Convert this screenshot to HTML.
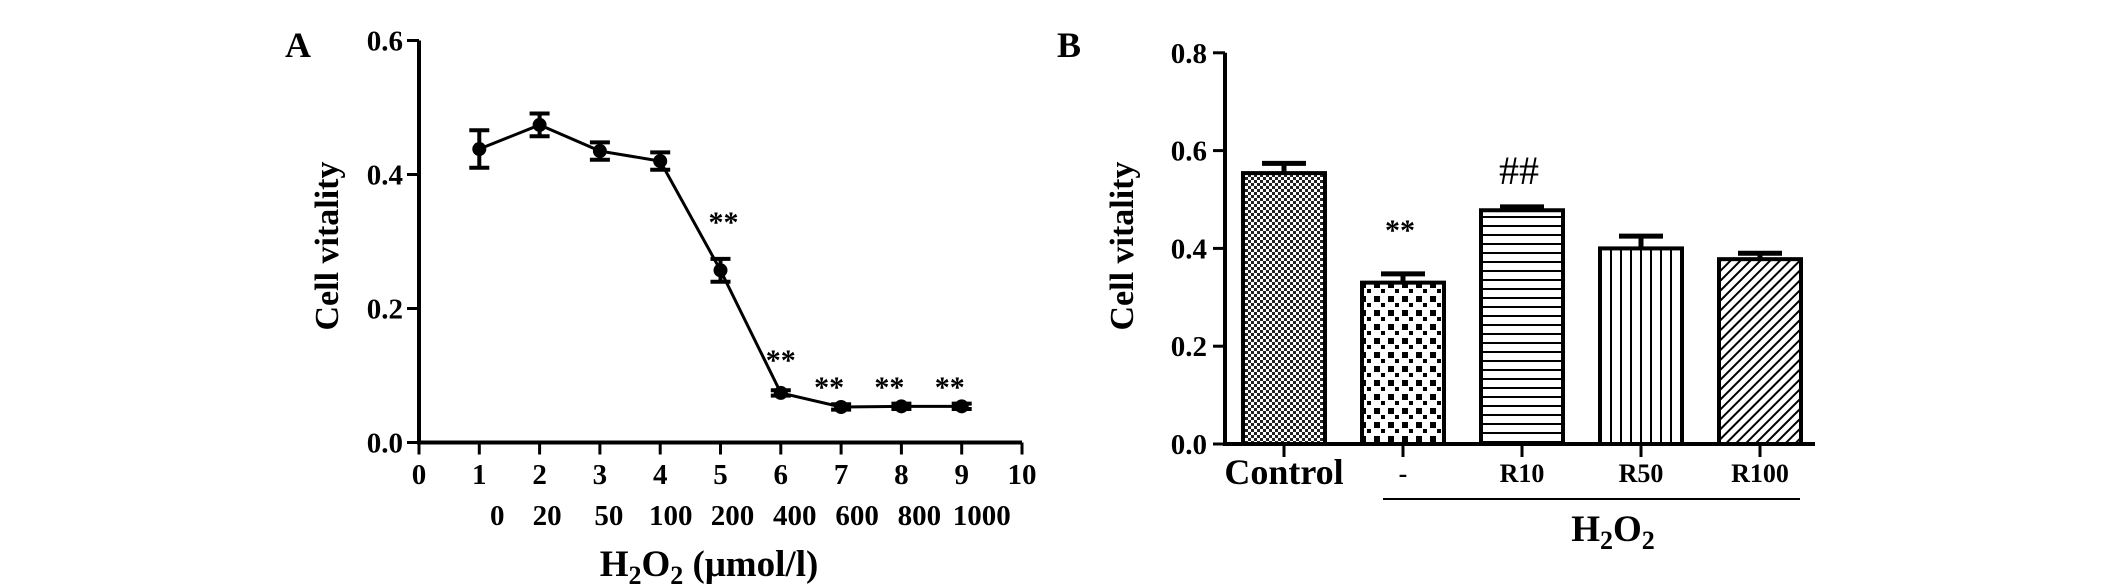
<!DOCTYPE html>
<html><head><meta charset="utf-8"><style>
html,body{margin:0;padding:0;background:#fff;}
svg{display:block;font-family:"Liberation Serif",serif;font-weight:bold;}
</style></head><body>
<svg id="chart" width="2126" height="585" viewBox="0 0 2126 585" xmlns="http://www.w3.org/2000/svg">
<defs>
<pattern id="pFine" width="6" height="6" patternUnits="userSpaceOnUse"><rect width="6" height="6" fill="#fff"/><rect width="3" height="3" fill="#222"/><rect x="3" y="3" width="3" height="3" fill="#222"/></pattern>
<pattern id="pCheck" width="14" height="14" patternUnits="userSpaceOnUse"><rect width="14" height="14" fill="#fff"/><rect x="2" y="2" width="6" height="6" fill="#000"/><rect x="9" y="9" width="4" height="4" fill="#000"/></pattern>
<pattern id="pHoriz" width="10" height="9" patternUnits="userSpaceOnUse"><rect width="10" height="9" fill="#fff"/><rect y="0" width="10" height="2" fill="#000"/></pattern>
<pattern id="pVert" width="10" height="10" patternUnits="userSpaceOnUse"><rect width="10" height="10" fill="#fff"/><rect x="0" width="2" height="10" fill="#000"/></pattern>
<pattern id="pDiag" width="7" height="7" patternUnits="userSpaceOnUse" patternTransform="rotate(45)"><rect width="7" height="7" fill="#fff"/><rect width="2" height="7" fill="#000"/></pattern>
</defs>
<g id="gA"></g>
<g id="gB"></g>
</svg>
<script>
// Panel A data
const aX = [1,2,3,4,5,6,7,8,9];
const aValues = [0.438,0.474,0.435,0.420,0.257,0.074,0.053,0.054,0.054];
const aErrors = [0.028,0.017,0.013,0.013,0.017,0.004,0.004,0.004,0.004];
const aStars = [false,false,false,false,true,true,true,true,true];
const aXTicks = [0,1,2,3,4,5,6,7,8,9,10];
const aConc = ["0","20","50","100","200","400","600","800","1000"];
const aYTicks = [0.0,0.2,0.4,0.6];
// Panel B data
const bCats = ["Control","-","R10","R50","R100"];
const bValues = [0.554,0.330,0.478,0.400,0.378];
const bErrors = [0.020,0.018,0.007,0.025,0.012];
const bMarks = ["","**","##","",""];
const bYTicks = [0.0,0.2,0.4,0.6,0.8];

const NS="http://www.w3.org/2000/svg";
function mk(parent,tag,attrs,text){const e=document.createElementNS(NS,tag);for(const k in attrs)e.setAttribute(k,attrs[k]);if(text!==undefined)e.textContent=text;parent.appendChild(e);return e;}

// ---- Panel A ----
const gA=document.getElementById('gA');
const ax0=419, ay0=442.5, aPxX=60.3, aPxY=670;
const axA=v=>ax0+v*aPxX, ayA=v=>ay0-v*aPxY;
let t=mk(gA,'text',{x:285,y:57,'font-size':36});t.textContent='A';


let ln=mk(gA,'path',{d:`M${ax0} ${ayA(0.6)} V${ay0} H${axA(10)}`,stroke:'#000','stroke-width':4,fill:'none'});


aYTicks.forEach(v=>{
  const tk=mk(gA,'line',{x1:ax0-12,x2:ax0,y1:ayA(v),y2:ayA(v),stroke:'#000','stroke-width':3});
  
  
  const l=mk(gA,'text',{x:403,y:ayA(v)+10,'text-anchor':'end','font-size':29},v.toFixed(1));
  
  
});
aXTicks.forEach(v=>{
  const tk=mk(gA,'line',{x1:axA(v),x2:axA(v),y1:ay0,y2:ay0+12,stroke:'#000','stroke-width':3});
  
  
  const l=mk(gA,'text',{x:axA(v),y:484,'text-anchor':'middle','font-size':29},String(v));
  
  
});
aConc.forEach((c,i)=>{
  const l=mk(gA,'text',{x:axA(aX[i])+(i===0?18:(i>=5?14+(i-5)*2:6+i*1.5)),y:525,'text-anchor':'middle','font-size':29},c);
  
  
});
t=mk(gA,'text',{x:ax0+290,y:576,'text-anchor':'middle','font-size':37});
t.innerHTML='H<tspan font-size="26" dy="8">2</tspan><tspan dy="-8">O</tspan><tspan font-size="26" dy="8">2</tspan><tspan dy="-8"> (μmol/l)</tspan>';


t=mk(gA,'text',{x:0,y:0,'text-anchor':'middle','font-size':34,transform:`translate(338 246) rotate(-90)`},'Cell vitality');


let pts=aX.map((x,i)=>`${axA(x)},${ayA(aValues[i])}`).join(' ');
ln=mk(gA,'polyline',{points:pts,fill:'none',stroke:'#000','stroke-width':3});


aX.forEach((x,i)=>{
  const cx=axA(x),cy=ayA(aValues[i]),e=aErrors[i];
  const eb=mk(gA,'path',{d:`M${cx} ${ayA(aValues[i]+e)} V${ayA(aValues[i]-e)} M${cx-10} ${ayA(aValues[i]+e)} H${cx+10} M${cx-10} ${ayA(aValues[i]-e)} H${cx+10}`,stroke:'#000','stroke-width':4,fill:'none'});
  
  
  const p=mk(gA,'circle',{cx:cx,cy:cy,r:7,fill:'#000'});
  
  
  if(aStars[i]){
    const s=mk(gA,'text',{x:cx+(i===4?3:(i===5?0:-12)),y:i===4?232:(i===5?370:397),'text-anchor':'middle','font-size':30},'**');
    
    
  }
});

// ---- Panel B ----
const gB=document.getElementById('gB');
const bx0=1225, by0=444, bPxY=489, bStart=1284, bPitch=119, bW=82;
const byB=v=>by0-v*bPxY, bxB=i=>bStart+i*bPitch;
const pats=['pFine','pCheck','pHoriz','pVert','pDiag'];
t=mk(gB,'text',{x:1057,y:57,'font-size':36},'B');


ln=mk(gB,'path',{d:`M${bx0} ${byB(0.8)} V${by0} H1815`,stroke:'#000','stroke-width':4,fill:'none'});


bYTicks.forEach(v=>{
  const tk=mk(gB,'line',{x1:bx0-12,x2:bx0,y1:byB(v),y2:byB(v),stroke:'#000','stroke-width':3});
  
  
  const l=mk(gB,'text',{x:1207,y:byB(v)+10,'text-anchor':'end','font-size':29},v.toFixed(1));
  
  
});
t=mk(gB,'text',{x:0,y:0,'text-anchor':'middle','font-size':34,transform:`translate(1133 246) rotate(-90)`},'Cell vitality');


bCats.forEach((c,i)=>{
  const cx=bxB(i),top=byB(bValues[i]),e=bErrors[i];
  const eb=mk(gB,'path',{d:`M${cx} ${top} V${byB(bValues[i]+e)} M${cx-22} ${byB(bValues[i]+e)} H${cx+22}`,stroke:'#000','stroke-width':5,fill:'none'});
  
  
  const r=mk(gB,'rect',{x:cx-bW/2,y:top,width:bW,height:by0-top,fill:`url(#${pats[i]})`,stroke:'#000','stroke-width':4});
  
  
  const tk=mk(gB,'line',{x1:cx,x2:cx,y1:by0,y2:by0+13,stroke:'#000','stroke-width':3});
  
  
  const l=mk(gB,'text',{x:cx,y:i===0?484:482,'text-anchor':'middle','font-size':i===0?36:26},c);
  
  
  if(bMarks[i]){
    const s=mk(gB,'text',{x:cx-3,y:i===1?240:184,'text-anchor':'middle','font-size':i===1?30:40,'font-weight':i===1?'bold':'normal'},bMarks[i]);
    
    
  }
});
ln=mk(gB,'line',{x1:1383,x2:1800,y1:499,y2:499,stroke:'#000','stroke-width':2});


t=mk(gB,'text',{x:1613,y:541,'text-anchor':'middle','font-size':37});
t.innerHTML='H<tspan font-size="26" dy="8">2</tspan><tspan dy="-8">O</tspan><tspan font-size="26" dy="8">2</tspan>';


</script>
</body></html>
